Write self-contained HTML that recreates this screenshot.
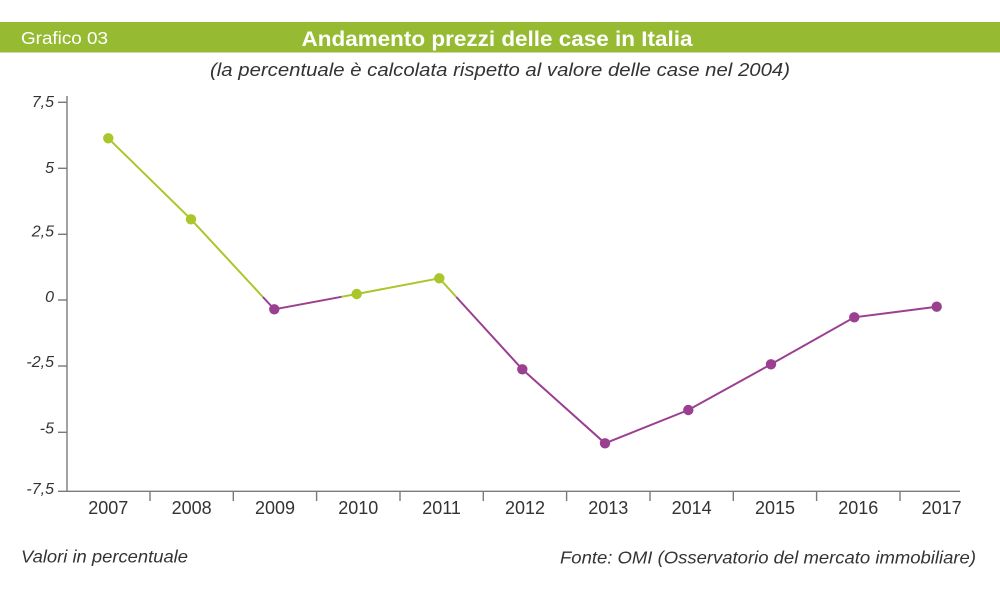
<!DOCTYPE html>
<html>
<head>
<meta charset="utf-8">
<style>
  html, body { margin:0; padding:0; background:#fff; }
  body { width:1000px; height:589px; overflow:hidden; }
  svg { display:block; }
  text { font-family: "Liberation Sans", "DejaVu Sans", sans-serif; }
</style>
</head>
<body>
<svg width="1000" height="589" viewBox="0 0 1000 589" xmlns="http://www.w3.org/2000/svg">
  <!-- header bar -->
  <rect x="0" y="22" width="1000" height="30.5" fill="#96bb33"/>
  <text x="21" y="44" font-size="17.5" fill="#ffffff" textLength="87" lengthAdjust="spacingAndGlyphs">Grafico 03</text>
  <text x="301.5" y="46" font-size="21" font-weight="bold" fill="#ffffff" textLength="391" lengthAdjust="spacingAndGlyphs">Andamento prezzi delle case in Italia</text>
  <text x="210" y="76" font-size="18" font-style="italic" fill="#333333" textLength="580" lengthAdjust="spacingAndGlyphs">(la percentuale è calcolata rispetto al valore delle case nel 2004)</text>

  <!-- axes -->
  <g stroke="#7a7a7a" stroke-width="1.4" fill="none">
    <line x1="67" y1="96" x2="67" y2="491.5"/>
    <line x1="66.3" y1="491.3" x2="960" y2="491.3"/>
    <!-- y ticks -->
    <line x1="58" y1="102.3" x2="67" y2="102.3"/>
    <line x1="58" y1="168.3" x2="67" y2="168.3"/>
    <line x1="58" y1="234.3" x2="67" y2="234.3"/>
    <line x1="58" y1="300" x2="67" y2="300"/>
    <line x1="58" y1="366" x2="67" y2="366"/>
    <line x1="58" y1="432.3" x2="67" y2="432.3"/>
    <line x1="58" y1="491.3" x2="67" y2="491.3"/>
    <!-- x ticks -->
    <line x1="150" y1="491" x2="150" y2="501"/>
    <line x1="233.3" y1="491" x2="233.3" y2="501"/>
    <line x1="316.6" y1="491" x2="316.6" y2="501"/>
    <line x1="400" y1="491" x2="400" y2="501"/>
    <line x1="483.3" y1="491" x2="483.3" y2="501"/>
    <line x1="566.6" y1="491" x2="566.6" y2="501"/>
    <line x1="650" y1="491" x2="650" y2="501"/>
    <line x1="733.3" y1="491" x2="733.3" y2="501"/>
    <line x1="816.6" y1="491" x2="816.6" y2="501"/>
    <line x1="900" y1="491" x2="900" y2="501"/>
  </g>

  <!-- y labels -->
  <g font-size="16" font-style="italic" fill="#333333" text-anchor="end">
    <text x="54" y="107">7,5</text>
    <text x="54" y="173">5</text>
    <text x="54" y="236.5">2,5</text>
    <text x="54" y="302">0</text>
    <text x="54" y="367">-2,5</text>
    <text x="54" y="433.5">-5</text>
    <text x="54" y="494">-7,5</text>
  </g>

  <!-- x labels -->
  <g font-size="18" fill="#333333" text-anchor="middle">
    <text x="108.3" y="514">2007</text>
    <text x="191.6" y="514">2008</text>
    <text x="275" y="514">2009</text>
    <text x="358.3" y="514">2010</text>
    <text x="441.6" y="514">2011</text>
    <text x="525" y="514">2012</text>
    <text x="608.3" y="514">2013</text>
    <text x="691.6" y="514">2014</text>
    <text x="775" y="514">2015</text>
    <text x="858.3" y="514">2016</text>
    <text x="941.6" y="514">2017</text>
  </g>

  <!-- series lines -->
  <g stroke-width="2" fill="none" stroke-linecap="butt">
    <polyline stroke="#a9c72a" points="108.3,138.3 191,219.3 262.9,297"/>
    <polyline stroke="#9b3f91" points="262.9,297 274.3,309.3 341.5,296.8"/>
    <polyline stroke="#a9c72a" points="341.5,296.8 356.7,294 439.3,278.3 456.3,297"/>
    <polyline stroke="#9b3f91" points="456.3,297 522.3,369.3 605,443.3 688.3,410 771,364.3 854.3,317.3 936.7,306.7"/>
  </g>

  <!-- markers -->
  <g fill="#a9c72a">
    <circle cx="108.3" cy="138.3" r="5.2"/>
    <circle cx="191" cy="219.3" r="5.2"/>
    <circle cx="356.7" cy="294" r="5.2"/>
    <circle cx="439.3" cy="278.3" r="5.2"/>
  </g>
  <g fill="#9b3f91">
    <circle cx="274.3" cy="309.3" r="5.2"/>
    <circle cx="522.3" cy="369.3" r="5.2"/>
    <circle cx="605" cy="443.3" r="5.2"/>
    <circle cx="688.3" cy="410" r="5.2"/>
    <circle cx="771" cy="364.3" r="5.2"/>
    <circle cx="854.3" cy="317.3" r="5.2"/>
    <circle cx="936.7" cy="306.7" r="5.2"/>
  </g>

  <!-- footnotes -->
  <text x="21" y="562.5" font-size="17.5" font-style="italic" fill="#333333" textLength="167" lengthAdjust="spacingAndGlyphs">Valori in percentuale</text>
  <text x="560" y="563.5" font-size="17.5" font-style="italic" fill="#333333" textLength="416" lengthAdjust="spacingAndGlyphs">Fonte: OMI (Osservatorio del mercato immobiliare)</text>
</svg>
</body>
</html>
